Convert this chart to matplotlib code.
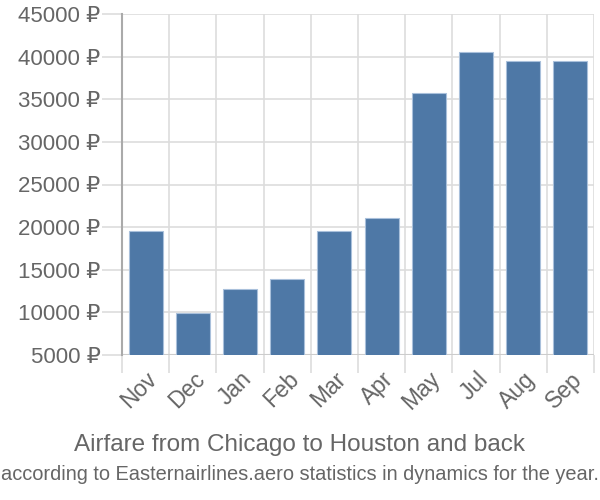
import numpy as np
import matplotlib
matplotlib.use('Agg')
import matplotlib.pyplot as plt

plt.rcParams['font.family'] = ['Liberation Sans', 'DejaVu Sans']

months = ['Nov', 'Dec', 'Jan', 'Feb', 'Mar', 'Apr', 'May', 'Jul', 'Aug', 'Sep']
prices = [19580, 9890, 12710, 13920, 19520, 21040, 35770, 40510, 39530, 39530]
yticks = [5000, 10000, 15000, 20000, 25000, 30000, 35000, 40000, 45000]

grid_c = '#dddddd'
text_c = '#666666'

fig = plt.figure(figsize=(6, 5), dpi=100)
ax = fig.add_axes([122/600, 145/500, 472/600, 341/500])

x = np.arange(len(months))
ax.bar(x, prices, width=0.72, bottom=0, color='#4e78a6', edgecolor='#a9c0db',
       linewidth=0.8, zorder=3)

ax.set_xlim(-0.5, len(months) - 0.5)
ax.set_ylim(5000, 45000)

# y grid + left tick marks
ax.set_yticks(yticks)
ax.set_yticklabels([f'{v} ₽' for v in yticks])
ax.tick_params(axis='y', length=14.5, width=1.2, color=grid_c, pad=1,
               labelsize=16, labelcolor=text_c)
ax.grid(axis='y', color=grid_c, linewidth=1.2, zorder=0)

# x: vertical grid lines on category borders, labels on centers
ax.set_xticks(x)
ax.set_xticklabels(months, rotation=45, ha='right', rotation_mode='anchor')
ax.tick_params(axis='x', which='major', length=0, pad=9,
               labelsize=16.5, labelcolor=text_c)
ax.set_xticks(np.arange(-0.5, len(months)), minor=True)
ax.tick_params(axis='x', which='minor', length=13, width=1.2, color=grid_c)
ax.grid(axis='x', which='minor', color=grid_c, linewidth=1.2, zorder=0)

for s in ['top', 'right', 'bottom']:
    ax.spines[s].set_visible(False)
ax.spines['left'].set_color('#aaaaaa')
ax.spines['left'].set_linewidth(1.5)
ax.spines['left'].set_bounds(5000, 45000)
ax.axhline(5000, color='#cccccc', linewidth=1.5, zorder=2)

fig.text(0.5, 1 - 445/500, 'Airfare from Chicago to Houston and back',
         ha='center', va='center', fontsize=17.5, color=text_c)
fig.text(0.5, 1 - 475/500,
         'according to Easternairlines.aero statistics in dynamics for the year.',
         ha='center', va='center', fontsize=14.4, color=text_c)

fig.savefig('out.png', dpi=100)
